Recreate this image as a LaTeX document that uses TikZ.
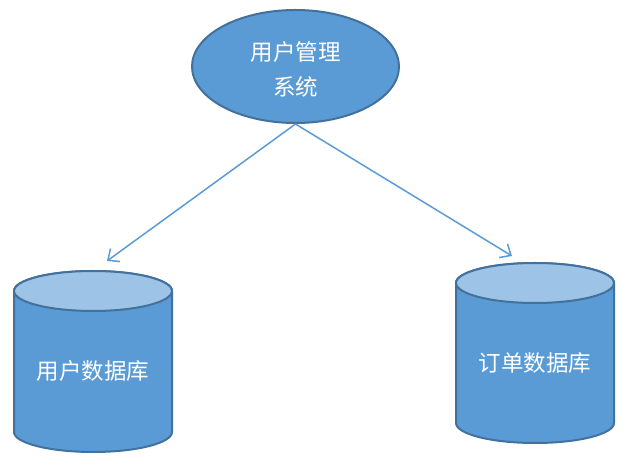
\documentclass[tikz,border=0pt]{standalone}
\usepackage{fontspec}
\newfontfamily\cjk{Noto Sans CJK SC}
\usetikzlibrary{arrows.meta,shapes.geometric}
\definecolor{bodyblue}{HTML}{5B9BD5}
\definecolor{edgeblue}{HTML}{41719C}
\definecolor{capblue}{HTML}{9DC3E6}
\definecolor{arrowblue}{HTML}{5B9BD5}
\begin{document}
\begin{tikzpicture}[x=1pt,y=1pt,
  lbl/.style={text=white,font=\cjk\fontsize{22.5}{35}\selectfont,align=center},
  shapeedge/.style={draw=edgeblue,line width=2pt},
  conn/.style={draw=arrowblue,line width=1.5pt,-{Straight Barb[length=9pt,width=16pt,line width=1.5pt]}}]
\useasboundingbox (0,0) rectangle (627,458);
% top ellipse
\node[ellipse,shapeedge,fill=bodyblue,minimum width=207pt,minimum height=113pt,inner sep=0pt] (sys) at (295.5,391.5) {};
\node[lbl] (systext) at (295.5,389) {用户管理\\系统};
% left cylinder
\path[fill=bodyblue,shapeedge] (14,167) -- (14,26) arc[start angle=180,end angle=360,x radius=79,y radius=20] -- (172,167) arc[start angle=0,end angle=180,x radius=79,y radius=20] -- cycle;
\path[fill=capblue,shapeedge] (93,167) ellipse[x radius=79,y radius=20];
\node[lbl] (udb) at (93,87) {用户数据库};
% right cylinder
\path[fill=bodyblue,shapeedge] (456,175) -- (456,35) arc[start angle=180,end angle=360,x radius=79,y radius=20] -- (614,175) arc[start angle=0,end angle=180,x radius=79,y radius=20] -- cycle;
\path[fill=capblue,shapeedge] (535,175) ellipse[x radius=79,y radius=20];
\node[lbl] (odb) at (535,95) {订单数据库};
% arrow ends
\coordinate (uend) at (107,197);
\coordinate (oend) at (512,202);
\draw[conn] (sys.south) -- (uend);
\draw[conn] (sys.south) -- (oend);
\end{tikzpicture}
\end{document}
